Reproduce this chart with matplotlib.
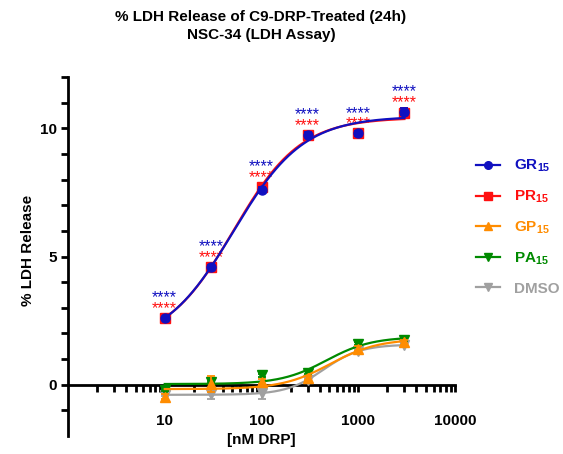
import numpy as np
import matplotlib
matplotlib.use('Agg')
import matplotlib.pyplot as plt
from matplotlib.lines import Line2D
from matplotlib.ticker import FixedLocator, NullFormatter

plt.rcParams['font.family'] = ['Liberation Sans', 'DejaVu Sans']
plt.rcParams['font.weight'] = 'bold'
plt.rcParams['mathtext.fontset'] = 'custom'
plt.rcParams['mathtext.rm'] = 'Liberation Sans:bold'
plt.rcParams['mathtext.bf'] = 'Liberation Sans:bold'
plt.rcParams['mathtext.default'] = 'bf'

# ---- data ----
conc = [10, 30, 100, 300, 1000, 3000]

gr = [2.6, 4.6, 7.6, 9.75, 9.8, 10.65]
gr_sem = [0.06, 0.08, 0.12, 0.1, 0.1, 0.15]
pr = [2.6, 4.6, 7.7, 9.75, 9.8, 10.6]
pr_sem = [0.08, 0.08, 0.18, 0.12, 0.1, 0.18]
gp = [-0.47, 0.03, 0.12, 0.27, 1.4, 1.66]
gp_sem = [0.1, 0.3, 0.1, 0.08, 0.1, 0.1]
pa = [-0.2, 0.1, 0.37, 0.47, 1.6, 1.75]
pa_sem = [0.05, 0.05, 0.06, 0.05, 0.06, 0.05]
dmso = [-0.4, -0.37, -0.34, 0.2, 1.3, 1.55]
dmso_sem = [0.05, 0.18, 0.2, 0.05, 0.05, 0.05]

labels = ['GR$_{15}$', 'PR$_{15}$', 'GP$_{15}$', 'PA$_{15}$', 'DMSO']
colors = ['#1010C0', '#FF1010', '#FF8C00', '#008A00', '#A0A0A0']
markers = ['o', 's', '^', 'v', 'v']
stars = '****'


def fit_4pl(x, y):
    # 4-parameter logistic, grid over EC50/hill, linear solve for bottom/top
    lx = np.log10(x)
    y = np.asarray(y)
    best = None
    for logc in np.linspace(0.5, 3.3, 281):
        for h in np.linspace(0.4, 4.0, 73):
            f = 1.0 / (1.0 + 10 ** ((logc - lx) * h))
            A = np.column_stack([1 - f, f])
            coef = np.linalg.lstsq(A, y, rcond=None)[0]
            sse = np.sum((A @ coef - y) ** 2)
            if best is None or sse < best[0]:
                best = (sse, logc, h, coef[0], coef[1])
    _, logc, h, bot, top = best
    return lambda xx: bot + (top - bot) / (1 + 10 ** ((logc - np.log10(xx)) * h))


fig = plt.figure(figsize=(5.63, 4.54), dpi=100)
ax = fig.add_axes([68 / 563, 18 / 454, 387 / 563, 359 / 454])

series = [(gr, gr_sem), (pr, pr_sem), (gp, gp_sem), (pa, pa_sem), (dmso, dmso_sem)]
zorders = [10, 9, 8, 7, 6]
xs = np.logspace(1, np.log10(3000), 300)
for (vals, sem), c, m, lab, z in zip(series, colors, markers, labels, zorders):
    curve = fit_4pl(conc, vals)
    ax.plot(xs, curve(xs), color=c, lw=1.6, zorder=z)
    ax.errorbar(conc, vals, yerr=sem, fmt=m, color=c, ms=6.5, capsize=3,
                elinewidth=1.3, capthick=1.3, zorder=z, clip_on=False)

# significance stars (asterisk glyph sits ~7pt above the baseline)
for x, a, b in zip(conc, gr, pr):
    top = max(a, b)
    ax.annotate(stars, (x, top + 0.57), xytext=(0, -7), textcoords='offset points',
                color=colors[1], ha='center', va='baseline', fontsize=11.5,
                fontweight='normal')
    ax.annotate(stars, (x, top + 0.99), xytext=(0, -7), textcoords='offset points',
                color=colors[0], ha='center', va='baseline', fontsize=11.5,
                fontweight='normal')

ax.set_xscale('log')
ax.set_xlim(1, 10000)
ax.set_ylim(-2, 12)
ax.spines['bottom'].set_position(('data', 0))
ax.spines['top'].set_visible(False)
ax.spines['right'].set_visible(False)
for sp in ['left', 'bottom']:
    ax.spines[sp].set_linewidth(2)

ax.xaxis.set_major_locator(FixedLocator([10, 100, 1000, 10000]))
ax.xaxis.set_minor_locator(FixedLocator([k * 10 ** d for d in range(0, 4) for k in range(2, 10)]))
ax.xaxis.set_minor_formatter(NullFormatter())
ax.set_xticklabels(['10', '100', '1000', '10000'])
ax.set_yticks([0, 5, 10])
ax.set_yticks([-1, 1, 2, 3, 4, 6, 7, 8, 9, 11, 12], minor=True)
ax.tick_params(axis='both', which='both', direction='out', width=2, length=5,
               labelsize=11)
ax.tick_params(axis='x', which='major', pad=16)
ax.tick_params(axis='y', which='major', pad=3)
ax.patch.set_visible(False)

fig.text(261 / 563, 1 - 26 / 454,
         '% LDH Release of C9-DRP-Treated (24h)\nNSC-34 (LDH Assay)',
         ha='center', va='center', fontsize=11, fontweight='bold', linespacing=1.35)
fig.text(28 / 563, 1 - 250 / 454, '% LDH Release', rotation=90, ha='center',
         va='center', fontsize=11, fontweight='bold')
fig.text(261 / 563, 14 / 454, '[nM DRP]', ha='center', va='center',
         fontsize=11, fontweight='bold')

handles = [Line2D([0], [0], color=c, marker=m, ms=5.5, lw=1.6)
           for c, m in zip(colors, markers)]
leg = ax.legend(handles, labels, loc='upper left', frameon=False,
                bbox_to_anchor=(476 / 563, 1 - 158 / 454), bbox_transform=fig.transFigure,
                borderaxespad=0, borderpad=0, handlelength=1.6, handletextpad=0.9,
                labelspacing=0.95, prop={'size': 11, 'weight': 'bold'},
                labelcolor='linecolor')

fig.savefig('out.png', dpi=100)
